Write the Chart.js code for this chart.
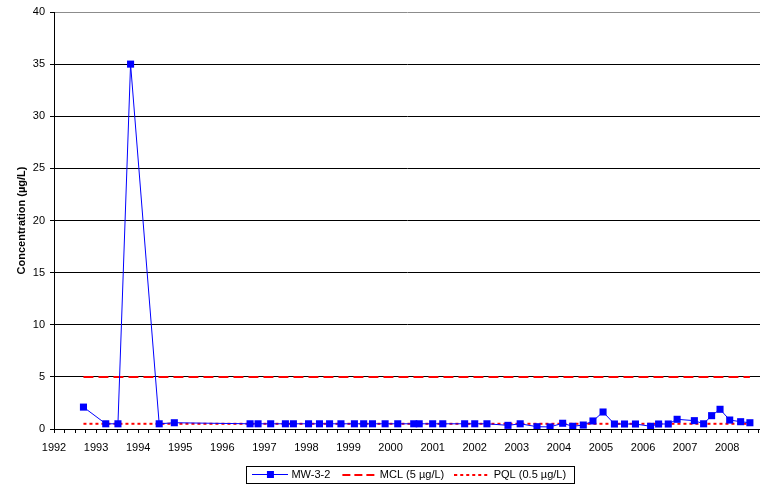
<!DOCTYPE html>
<html>
<head>
<meta charset="utf-8">
<title>MW-3-2 Concentration</title>
<script src="https://cdn.jsdelivr.net/npm/chart.js@4/dist/chart.umd.min.js"></script>
<style>
  html, body { margin: 0; padding: 0; background: #fff; }
  #chart { display: block; }
</style>
</head>
<body>
<canvas id="chart" width="760" height="487"></canvas>
<script>
// Sampling dates (decimal years) and MW-3-2 results (µg/L)
const sampleDates = [
  1992.70, 1993.23, 1993.52, 1993.82, 1994.50, 1994.86, 1996.66, 1996.85,
  1997.15, 1997.50, 1997.69, 1998.05, 1998.31, 1998.55, 1998.82, 1999.14,
  1999.36, 1999.57, 1999.87, 2000.17, 2000.55, 2000.68, 2001.00, 2001.24,
  2001.76, 2002.00, 2002.29, 2002.79, 2003.08, 2003.48, 2003.79, 2004.09,
  2004.33, 2004.58, 2004.81, 2005.05, 2005.32, 2005.56, 2005.82, 2006.18,
  2006.37, 2006.60, 2006.81, 2007.22, 2007.44, 2007.63, 2007.83, 2008.06,
  2008.32, 2008.54
];
const mw32 = [
  2.1, 0.5, 0.5, 35, 0.5, 0.6, 0.5, 0.5,
  0.5, 0.5, 0.5, 0.5, 0.5, 0.5, 0.5, 0.5,
  0.5, 0.5, 0.5, 0.5, 0.5, 0.5, 0.5, 0.5,
  0.5, 0.5, 0.5, 0.35, 0.5, 0.22, 0.2, 0.55,
  0.26, 0.38, 0.77, 1.63, 0.48, 0.48, 0.48, 0.26,
  0.48, 0.48, 0.93, 0.8, 0.5, 1.28, 1.89, 0.86,
  0.7, 0.6
];
const MCL = 5;
const PQL = 0.5;
const years = [1992, 1993, 1994, 1995, 1996, 1997, 1998, 1999, 2000,
               2001, 2002, 2003, 2004, 2005, 2006, 2007, 2008];
const xMin = 1992;
const xMax = 2008.78;

const FONT = "'Liberation Sans', Arial, Helvetica, sans-serif";
const BLUE = '#0000FF';
const RED = '#FF0000';

// Small swatches used as legend symbols
function swatch(draw) {
  const c = document.createElement('canvas');
  c.width = 36; c.height = 10;
  draw(c.getContext('2d'));
  return c;
}
const legendSymbols = [
  swatch(g => { g.fillStyle = BLUE; g.fillRect(0, 4, 36, 1); g.fillRect(15, 1, 7, 7); }),
  swatch(g => { g.fillStyle = RED; [2, 14, 26].forEach(x => g.fillRect(x, 4, 8, 2)); }),
  swatch(g => { g.fillStyle = RED; for (let x = 0; x < 36; x += 6) g.fillRect(x, 4, 3, 2); })
];

const firstDate = sampleDates[0];
const lastDate = sampleDates[sampleDates.length - 1];

// Shift the legend row and frame it
const legendFrame = {
  id: 'legendFrame',
  afterUpdate(chart) {
    const lg = chart.legend;
    if (!lg) return;
    lg.left += 30; lg.right += 30;
    lg.top += 3.5; lg.bottom += 3.5;
    lg.fit();
    lg.adjustHitBoxes();
  },
  afterDraw(chart) {
    const boxes = chart.legend && chart.legend.legendHitBoxes;
    if (!boxes || !boxes.length) return;
    const l = Math.min(...boxes.map(b => b.left));
    const r = Math.max(...boxes.map(b => b.left + b.width));
    const t = Math.min(...boxes.map(b => b.top));
    const bt = Math.max(...boxes.map(b => b.top + b.height));
    const ctx = chart.ctx;
    ctx.save();
    ctx.strokeStyle = '#000';
    ctx.lineWidth = 1;
    ctx.strokeRect(Math.round(l - 8) + 0.5, Math.round(t - 4) + 0.5,
                   Math.round(r - l + 16), Math.round(bt - t + 6));
    ctx.restore();
  }
};

new Chart(document.getElementById('chart'), {
  type: 'line',
  data: {
    datasets: [
      {
        label: 'MW-3-2',
        data: sampleDates.map((d, i) => ({ x: d, y: mw32[i] })),
        borderColor: BLUE,
        backgroundColor: BLUE,
        borderWidth: 1,
        pointStyle: 'rect',
        pointRadius: 5,
        pointBorderWidth: 0,
        pointBackgroundColor: BLUE,
        tension: 0
      },
      {
        label: 'MCL (5 µg/L)',
        data: [{ x: firstDate, y: MCL }, { x: lastDate, y: MCL }],
        borderColor: RED,
        borderWidth: 2,
        borderDash: [10, 5],
        pointRadius: 0
      },
      {
        label: 'PQL (0.5 µg/L)',
        data: [{ x: firstDate, y: PQL }, { x: lastDate, y: PQL }],
        borderColor: RED,
        borderWidth: 2,
        borderDash: [3, 3],
        pointRadius: 0
      }
    ]
  },
  options: {
    responsive: false,
    animation: false,
    devicePixelRatio: 1,
    layout: { autoPadding: false, padding: { top: 12, left: 0, right: 0, bottom: 0 } },
    plugins: {
      tooltip: { enabled: false },
      legend: {
        position: 'bottom',
        labels: {
          font: { family: FONT, size: 11 },
          color: '#000',
          padding: 12,
          usePointStyle: true,
          pointStyleWidth: 32,
          boxHeight: 11,
          generateLabels: chart => chart.data.datasets.map((ds, i) => ({
            text: ds.label,
            pointStyle: legendSymbols[i],
            fillStyle: 'rgba(0,0,0,0)',
            strokeStyle: 'rgba(0,0,0,0)',
            lineWidth: 0,
            hidden: false,
            fontColor: '#000',
            datasetIndex: i
          }))
        }
      }
    },
    scales: {
      x: {
        type: 'linear',
        min: xMin,
        max: xMax,
        afterBuildTicks: s => {
          const t = [];
          years.forEach(yr => {
            for (let q = 0; q < 4; q++) {
              const v = yr + q / 4;
              if (v <= xMax) t.push({ value: v });
            }
          });
          s.ticks = t;
        },
        afterFit: s => {
          s.height = 25;
          s.paddingLeft = 0;
          s.paddingRight = 0;
        },
        ticks: {
          autoSkip: false,
          maxRotation: 0,
          minRotation: 0,
          padding: 8,
          color: '#000',
          font: { family: FONT, size: 11 },
          callback: v => (years.includes(v) ? String(v) : '')
        },
        grid: { drawOnChartArea: false, drawTicks: true, tickLength: 4, tickColor: '#000' },
        border: { color: '#000', width: 1 }
      },
      y: {
        min: 0,
        max: 40,
        afterFit: s => { s.width = 54; },
        ticks: {
          stepSize: 5,
          padding: 5,
          color: '#000',
          font: { family: FONT, size: 11 }
        },
        grid: {
          color: c => (c.tick && c.tick.value === 40 ? '#8c8c8c' : '#000'),
          lineWidth: 1,
          drawTicks: true,
          tickLength: 4,
          tickColor: '#000'
        },
        border: { color: '#000', width: 1 },
        title: {
          display: true,
          text: 'Concentration (µg/L)',
          color: '#000',
          font: { family: FONT, size: 11, weight: 'bold' },
          padding: { top: 15, bottom: 0 }
        }
      }
    }
  },
  plugins: [legendFrame]
});
</script>
</body>
</html>
